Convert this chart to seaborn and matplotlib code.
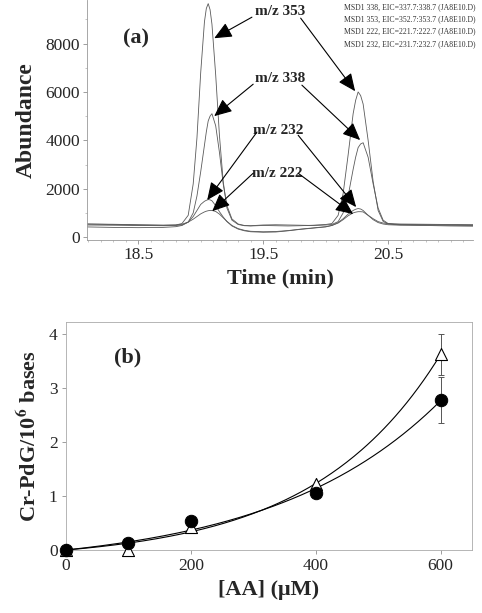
import numpy as np
import pandas as pd
import matplotlib
matplotlib.use("Agg")
import matplotlib.pyplot as plt
import seaborn as sns
from matplotlib.ticker import MultipleLocator

# ---- panel (a): extracted ion chromatograms ----
time_min = [18.09, 18.3, 18.5, 18.7, 18.8, 18.85, 18.9, 18.94, 18.97, 19.0, 19.03, 19.045,
            19.06, 19.075, 19.09, 19.12, 19.15, 19.18, 19.21, 19.25, 19.3, 19.35, 19.4, 19.5,
            19.6, 19.7, 19.8, 19.9, 20.0, 20.05, 20.1, 20.14, 20.18, 20.22, 20.24, 20.26,
            20.28, 20.3, 20.34, 20.38, 20.42, 20.46, 20.5, 20.55, 20.6, 20.8, 21.0, 21.18]
eic_353 = [540, 530, 510, 490, 500, 560, 900, 2200, 4100, 6800, 8900, 9450,
           9650, 9400, 8800, 6700, 4200, 2300, 1200, 700, 520, 470, 460, 480,
           470, 460, 470, 490, 520, 560, 900, 1800, 3400, 5100, 5650, 6000,
           5850, 5500, 4000, 2300, 1100, 650, 540, 520, 510, 500, 490, 480]
eic_338 = [500, 490, 480, 470, 480, 500, 620, 1000, 1700, 2700, 3800, 4350,
           4800, 5000, 5100, 4600, 3500, 2200, 1300, 750, 540, 480, 470, 500,
           510, 500, 490, 480, 500, 520, 640, 1000, 1700, 2800, 3300, 3700,
           3850, 3900, 3300, 2200, 1200, 700, 560, 530, 520, 510, 500, 500]
eic_232 = [420, 400, 390, 400, 430, 480, 620, 850, 1100, 1350, 1480, 1520,
           1550, 1540, 1500, 1300, 1050, 830, 640, 460, 330, 260, 220, 200,
           210, 260, 320, 370, 420, 480, 600, 760, 950, 1100, 1150, 1180,
           1160, 1100, 900, 720, 600, 540, 510, 500, 490, 480, 460, 450]
eic_222 = [540, 520, 500, 490, 500, 530, 620, 740, 850, 960, 1040, 1070,
           1090, 1100, 1100, 1060, 950, 800, 650, 480, 350, 280, 240, 220,
           230, 270, 330, 380, 430, 480, 580, 720, 880, 1000, 1030, 1050,
           1050, 1040, 900, 760, 640, 580, 560, 550, 540, 530, 520, 510]
legend_lines = ["MSD1 338, EIC=337.7:338.7 (JA8E10.D)",
                "MSD1 353, EIC=352.7:353.7 (JA8E10.D)",
                "MSD1 222, EIC=221.7:222.7 (JA8E10.D)",
                "MSD1 232, EIC=231.7:232.7 (JA8E10.D)"]

# ---- panel (b): adduct levels vs AA concentration ----
aa_conc = [0, 100, 200, 400, 600]
circ_vals = [0.0, 0.12, 0.53, 1.05, 2.78]
circ_err = [0, 0, 0, 0.08, 0.43]
tri_vals = [0.0, 0.0, 0.42, 1.22, 3.62]
tri_err = [0, 0, 0, 0, 0.38]

sns.set_style("ticks")
plt.rcParams['font.family'] = ['Liberation Serif', 'DejaVu Serif']
plt.rcParams['mathtext.fontset'] = 'stix'

fig = plt.figure(figsize=(4.82, 6.13), dpi=100)
ax1 = fig.add_axes([0.1805, 0.6085, 0.801, 0.3915])
ax2 = fig.add_axes([0.137, 0.1028, 0.842, 0.372])

n = len(time_min)
df_a = pd.DataFrame({"time": time_min * 4,
                     "abundance": eic_353 + eic_338 + eic_232 + eic_222,
                     "trace": ["353"] * n + ["338"] * n + ["232"] * n + ["222"] * n})
sns.lineplot(data=df_a, x="time", y="abundance", units="trace", estimator=None,
             color="#5a5a5a", lw=0.6, ax=ax1)
ax1.set_xlim(18.09, 21.18)
ax1.set_ylim(-120, 9800)
ax1.set_xticks([18.5, 19.5, 20.5])
ax1.set_xticklabels(["18.5", "19.5", "20.5"])
ax1.set_yticks([0, 2000, 4000, 6000, 8000])
ax1.xaxis.set_minor_locator(MultipleLocator(0.1))
ax1.yaxis.set_minor_locator(MultipleLocator(1000))
for s in ["top", "right"]:
    ax1.spines[s].set_visible(False)
for s in ["left", "bottom"]:
    ax1.spines[s].set_color("#999999")
    ax1.spines[s].set_linewidth(0.6)
ax1.tick_params(which="major", length=3, width=0.5, color="#777777", labelsize=12.5, pad=2)
ax1.tick_params(which="minor", length=1.5, width=0.4, color="#999999")
ax1.set_xlabel("Time (min)", fontsize=16, fontweight="bold", labelpad=4)
ax1.set_ylabel("Abundance", fontsize=17, fontweight="bold", labelpad=6)
ax1.text(18.48, 8200, "(a)", fontsize=16, fontweight="bold", ha="center", va="center")

arrow_kw = dict(arrowstyle="-|>,head_length=0.9,head_width=0.4", color="black", lw=0.8,
                shrinkA=0, shrinkB=0, mutation_scale=12)
labels_a = [("m/z 353", (19.636, 9340), [(19.41, 9090), (19.80, 9050)],
             [(19.108, 8220), (20.236, 6030)]),
            ("m/z 338", (19.636, 6570), [(19.42, 6320), (19.81, 6280)],
             [(19.108, 5000), (20.276, 4010)]),
            ("m/z 232", (19.62, 4420), [(19.45, 4340), (19.78, 4210)],
             [(19.052, 1530), (20.244, 1240)]),
            ("m/z 222", (19.61, 2640), [(19.42, 2640), (19.78, 2640)],
             [(19.092, 1070), (20.22, 950)])]
for txt, pos, tails, tips in labels_a:
    ax1.text(pos[0], pos[1], txt, fontsize=11, fontweight="bold", ha="center", va="center")
    for tail, tip in zip(tails, tips):
        ax1.annotate("", xy=tip, xytext=tail, arrowprops=arrow_kw)

for i, line in enumerate(legend_lines):
    fig.text(0.714, 0.988 - i * 0.0198, line, fontsize=5.6, color="#333333", va="center")

# exponential fits a*(exp(b*x)-1) through each series
xs = np.linspace(0, 600, 200)


def exp_fit(x, y):
    x = np.asarray(x, float)
    y = np.asarray(y, float)
    best = None
    for b in np.linspace(0.0005, 0.01, 400):
        g = np.exp(b * x) - 1
        a = (g @ y) / (g @ g)
        err = np.sum((a * g - y) ** 2)
        if best is None or err < best[0]:
            best = (err, a, b)
    return best[1] * (np.exp(best[2] * xs) - 1)


sns.lineplot(x=xs, y=exp_fit(aa_conc, circ_vals), color="black", lw=0.8, ax=ax2)
sns.lineplot(x=xs, y=exp_fit(aa_conc, tri_vals), color="black", lw=0.8, ax=ax2)
ax2.errorbar(aa_conc, circ_vals, yerr=circ_err, fmt="none", ecolor="#555555",
             elinewidth=0.7, capsize=2.5, capthick=0.7, zorder=2)
ax2.errorbar(aa_conc, tri_vals, yerr=tri_err, fmt="none", ecolor="#555555",
             elinewidth=0.7, capsize=2.5, capthick=0.7, zorder=2)
sns.scatterplot(x=aa_conc, y=tri_vals, marker="^", s=75, facecolor="white",
                edgecolor="black", linewidth=0.8, ax=ax2, zorder=3, clip_on=False)
sns.scatterplot(x=aa_conc, y=circ_vals, marker="o", s=80, color="black",
                edgecolor="black", ax=ax2, zorder=4, clip_on=False)
ax2.set_xlim(0, 650)
ax2.set_ylim(0, 4.22)
ax2.set_xticks([0, 200, 400, 600])
ax2.set_yticks([0, 1, 2, 3, 4])
for s in ax2.spines.values():
    s.set_color("#aaaaaa")
    s.set_linewidth(0.6)
ax2.tick_params(length=3, width=0.5, color="#777777", labelsize=12.5, pad=3)
ax2.set_xlabel("[AA] (μM)", fontsize=16, fontweight="bold", labelpad=4)
ax2.set_ylabel(r"Cr-PdG/10$^{\mathbf{6}}$ bases", fontsize=16, fontweight="bold", labelpad=6)
ax2.text(99, 3.57, "(b)", fontsize=16, fontweight="bold", ha="center", va="center")

fig.savefig("out.png", dpi=100)
